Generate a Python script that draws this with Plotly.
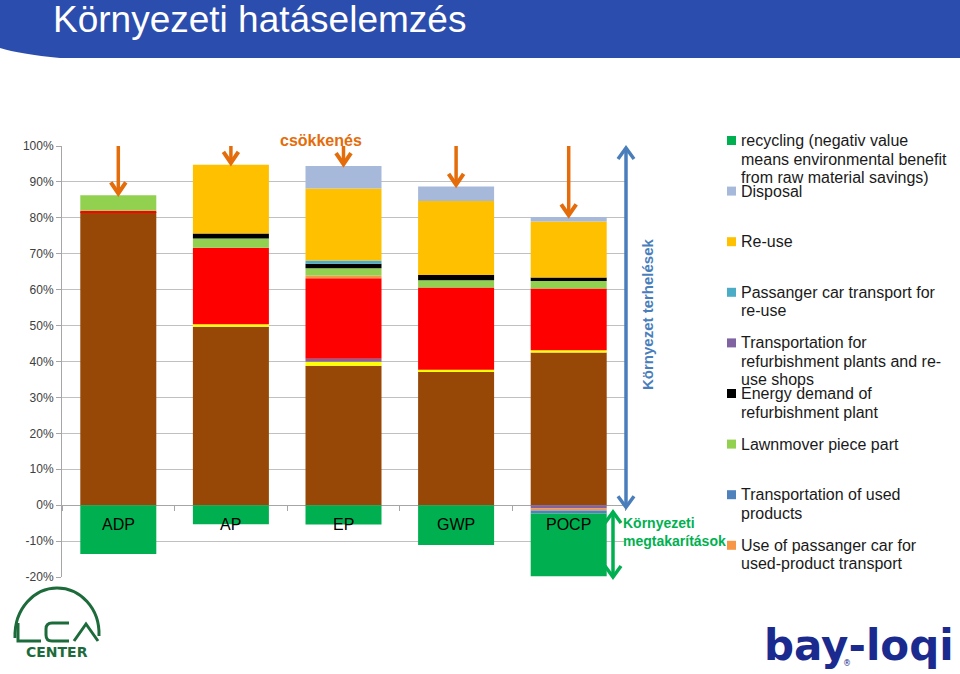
import plotly.graph_objects as go

# ---------------- data (fractions of the reference impact) ----------------
categories = ["ADP", "AP", "EP", "GWP", "POCP"]

s_brown = [0.816, 0.497, 0.388, 0.371, 0.425]        # unlabelled base segment
s_yellow = [0.0, 0.0067, 0.011, 0.006, 0.006]        # unlabelled thin segment
s_transp_refurb = [0.0, 0.0, 0.009, 0.0, -0.009]
s_red = [0.004, 0.213, 0.224, 0.229, 0.172]          # unlabelled segment
s_use_car = [0.0, 0.0, 0.0075, 0.0, -0.006]
s_transp_used = [0.0, 0.0, 0.0, 0.0, -0.008]
s_lawnmower = [0.043, 0.026, 0.020, 0.020, 0.021]
s_energy = [0.0, 0.014, 0.013, 0.015, 0.010]
s_car_reuse = [0.0, 0.0, 0.009, 0.0, 0.0]
s_reuse = [0.0, 0.191, 0.200, 0.206, 0.156]
s_disposal = [0.0, 0.0, 0.063, 0.040, 0.012]
s_recycling = [-0.136, -0.053, -0.054, -0.111, -0.175]

y_ticks = [-0.2, -0.1, 0.0, 0.1, 0.2, 0.3, 0.4, 0.5, 0.6, 0.7, 0.8, 0.9, 1.0]
y_tick_labels = ["-20%", "-10%", "0%", "10%", "20%", "30%", "40%", "50%",
                 "60%", "70%", "80%", "90%", "100%"]

legend_names = [
    "recycling (negativ value\nmeans environmental benefit\nfrom raw material savings)",
    "Disposal",
    "Re-use",
    "Passanger car transport for\nre-use",
    "Transportation for\nrefurbishment plants and re-\nuse shops",
    "Energy demand of\nrefurbishment plant",
    "Lawnmover piece part",
    "Transportation of used\nproducts",
    "Use of passanger car for\nused-product transport",
]

title_text = "Környezeti hatáselemzés"
reduction_text = "csökkenés"
burden_text = "Környezet terhelések"
savings_text = "Környezeti<br>megtakarítások"

# ---------------- styles ----------------
C_BROWN = "#974807"
C_YELLOW = "#FFFF00"
C_PURPLE = "#8064A2"
C_RED = "#FF0000"
C_ORANGE = "#F79646"
C_BLUE = "#4F81BD"
C_LAWN = "#92D050"
C_BLACK = "#000000"
C_TEAL = "#4BACC6"
C_REUSE = "#FFC000"
C_DISP = "#A7B9DA"
C_RECY = "#00B050"

series = [
    ("Unlabelled segment (brown)", s_brown, C_BROWN),
    ("Unlabelled segment (yellow)", s_yellow, C_YELLOW),
    ("Transportation for refurbishment plants and re-use shops", s_transp_refurb, C_PURPLE),
    ("Unlabelled segment (red)", s_red, C_RED),
    ("Use of passanger car for used-product transport", s_use_car, C_ORANGE),
    ("Transportation of used products", s_transp_used, C_BLUE),
    ("Lawnmover piece part", s_lawnmower, C_LAWN),
    ("Energy demand of refurbishment plant", s_energy, C_BLACK),
    ("Passanger car transport for re-use", s_car_reuse, C_TEAL),
    ("Re-use", s_reuse, C_REUSE),
    ("Disposal", s_disposal, C_DISP),
    ("recycling", s_recycling, C_RECY),
]
legend_colors = [C_RECY, C_DISP, C_REUSE, C_TEAL, C_PURPLE, C_BLACK, C_LAWN, C_BLUE, C_ORANGE]

W, H = 960, 674
L, T, R, B = 62, 146, 335, 97
PW, PH = W - L - R, H - T - B
Y0, Y1 = -0.2, 1.0
FONT = "Liberation Sans, Arial, sans-serif"


def px(x):
    return (x - L) / PW


def py(y):
    return (H - B - y) / PH


def vy(v):  # data value -> paper y
    return (v - Y0) / (Y1 - Y0)


def cx(i):  # category index -> paper x
    return (i + 0.5) / len(categories)


fig = go.Figure()
for name, vals, col in series:
    fig.add_trace(go.Bar(x=categories, y=vals, name=name, marker_color=col,
                         marker_line_width=0, showlegend=False))

shapes = []
annotations = []

# header band
shapes.append(dict(type="path", xref="paper", yref="paper", layer="above",
                   path=f"M {px(0)},{py(0)} L {px(960)},{py(0)} L {px(960)},{py(58)} "
                        f"L {px(60)},{py(58)} Q {px(20)},{py(54)} {px(0)},{py(48)} Z",
                   fillcolor="#2B4DAD", line_width=0))
annotations.append(dict(text=title_text, xref="paper", yref="paper", x=px(51), y=py(20),
                        xanchor="left", yanchor="middle", showarrow=False,
                        font=dict(family=FONT, size=37, color="white")))

# category labels drawn over the bars (as in the original)
for i, c in enumerate(categories):
    annotations.append(dict(text=c, xref="paper", yref="paper", x=cx(i), y=vy(0.0) - 19 / PH,
                            xanchor="center", yanchor="middle", showarrow=False,
                            font=dict(family=FONT, size=16, color="black")))

# orange reduction arrows pointing at the bar tops
tops = [sum(v[i] for _, v, _ in series if v[i] > 0) for i in range(len(categories))]
OR = "#E46C0A"
for i, top in enumerate(tops):
    x = cx(i)
    tip = vy(top + 0.005)
    shapes.append(dict(type="line", xref="paper", yref="paper", x0=x, x1=x,
                       y0=vy(1.0), y1=tip + 2 / PH, line=dict(color=OR, width=3.5)))
    shapes.append(dict(type="path", xref="paper", yref="paper",
                       path=f"M {x - 7.5 / PW},{tip + 11 / PH} L {x},{tip} L {x + 7.5 / PW},{tip + 11 / PH}",
                       line=dict(color=OR, width=4)))
annotations.append(dict(text=f"<b>{reduction_text}</b>", xref="paper", yref="paper",
                        x=px(321), y=py(140), xanchor="center", yanchor="middle",
                        showarrow=False, font=dict(family=FONT, size=16, color=OR)))


def double_arrow(x, ya, yb, color, w=3.5, hw=8, hh=11):
    shapes.append(dict(type="line", xref="paper", yref="paper", x0=x, x1=x,
                       y0=ya - 2 / PH, y1=yb + 2 / PH, line=dict(color=color, width=w)))
    shapes.append(dict(type="path", xref="paper", yref="paper",
                       path=f"M {x - hw / PW},{ya - hh / PH} L {x},{ya} L {x + hw / PW},{ya - hh / PH}",
                       line=dict(color=color, width=w)))
    shapes.append(dict(type="path", xref="paper", yref="paper",
                       path=f"M {x - hw / PW},{yb + hh / PH} L {x},{yb} L {x + hw / PW},{yb + hh / PH}",
                       line=dict(color=color, width=w)))


BLUE_TXT = "#4A7EBB"
double_arrow(px(626), vy(1.0) - 2 / PH, vy(0.0) - 2 / PH, BLUE_TXT)
annotations.append(dict(text=f"<b>{burden_text}</b>", xref="paper", yref="paper",
                        x=px(647), y=py(314), textangle=-90, showarrow=False,
                        xanchor="center", yanchor="middle",
                        font=dict(family=FONT, size=15, color=BLUE_TXT)))
GREEN_TXT = "#00B050"
double_arrow(px(613), py(512), vy(-0.2), GREEN_TXT)
annotations.append(dict(text=f"<b>{savings_text}</b>", xref="paper", yref="paper",
                        x=px(621), y=py(532), showarrow=False, align="left",
                        xanchor="left", yanchor="middle",
                        font=dict(family=FONT, size=14, color=GREEN_TXT)))

# manual legend (fixed 50.6 px pitch like the original)
for k, (name, col) in enumerate(zip(legend_names, legend_colors)):
    yc = 140.5 + k * 50.6
    shapes.append(dict(type="rect", xref="paper", yref="paper",
                       x0=px(727), x1=px(736), y0=py(yc - 4.5), y1=py(yc + 4.5),
                       fillcolor=col, line_width=0))
    for j, line in enumerate(name.split("\n")):
        annotations.append(dict(text=line, xref="paper", yref="paper",
                                x=px(739), y=py(yc + j * 18.5), xanchor="left",
                                yanchor="middle", showarrow=False,
                                font=dict(family=FONT, size=16, color="#1A1A1A")))

# LCA CENTER logo
LG = "#1D6B3B"
shapes.append(dict(type="path", xref="paper", yref="paper",
                   path=f"M {px(15)},{py(638)} C {px(14)},{py(608)} {px(35)},{py(588)} {px(57)},{py(588)} "
                        f"C {px(80)},{py(588)} {px(100)},{py(608)} {px(99)},{py(636)}",
                   line=dict(color=LG, width=3)))
shapes.append(dict(type="path", xref="paper", yref="paper",
                   path=f"M {px(18)},{py(623)} L {px(18)},{py(641)} L {px(41)},{py(641)}",
                   line=dict(color=LG, width=3)))
shapes.append(dict(type="path", xref="paper", yref="paper",
                   path=f"M {px(69)},{py(623)} L {px(52)},{py(623)} Q {px(46)},{py(623)} {px(46)},{py(629)} "
                        f"L {px(46)},{py(635)} Q {px(46)},{py(641)} {px(52)},{py(641)} L {px(69)},{py(641)}",
                   line=dict(color=LG, width=3)))
shapes.append(dict(type="path", xref="paper", yref="paper",
                   path=f"M {px(74)},{py(641)} L {px(86)},{py(624)} L {px(98)},{py(641)}",
                   line=dict(color=LG, width=3)))
annotations.append(dict(text="<b>CENTER</b>", xref="paper", yref="paper", x=px(57), y=py(652),
                        xanchor="center", yanchor="middle", showarrow=False,
                        font=dict(family="DejaVu Sans", size=14, color=LG)))

# bay-loqi logo
annotations.append(dict(text="<b>bay-loqi</b>", xref="paper", yref="paper", x=px(859), y=py(645),
                        xanchor="center", yanchor="middle", showarrow=False,
                        font=dict(family="DejaVu Sans", size=42, color="#1B2A8E")))
annotations.append(dict(text="®", xref="paper", yref="paper", x=px(847), y=py(663),
                        xanchor="center", yanchor="middle", showarrow=False,
                        font=dict(family="DejaVu Sans", size=8, color="#1B2A8E")))

fig.update_layout(
    width=W, height=H, barmode="relative", bargap=0.325,
    margin=dict(l=L, r=R, t=T, b=B, autoexpand=False),
    paper_bgcolor="white", plot_bgcolor="white",
    shapes=shapes, annotations=annotations,
    font=dict(family=FONT),
    xaxis=dict(anchor="free", position=vy(0.0), showline=True, linecolor="#A6A6A6",
               linewidth=1, ticks="outside", tickson="boundaries", ticklen=5,
               tickcolor="#A6A6A6", showticklabels=False,
               layer="below traces", showgrid=False, range=[-0.5, 4.5]),
    yaxis=dict(range=[Y0, Y1], tickvals=y_ticks, ticktext=y_tick_labels,
               showgrid=True, gridcolor="#C0C0C0", gridwidth=1, zeroline=False,
               showline=True, linecolor="#A6A6A6", ticks="outside", ticklen=5,
               tickcolor="#A6A6A6", tickfont=dict(family=FONT, size=12, color="#404040")),
)

fig.write_html("out.html")
